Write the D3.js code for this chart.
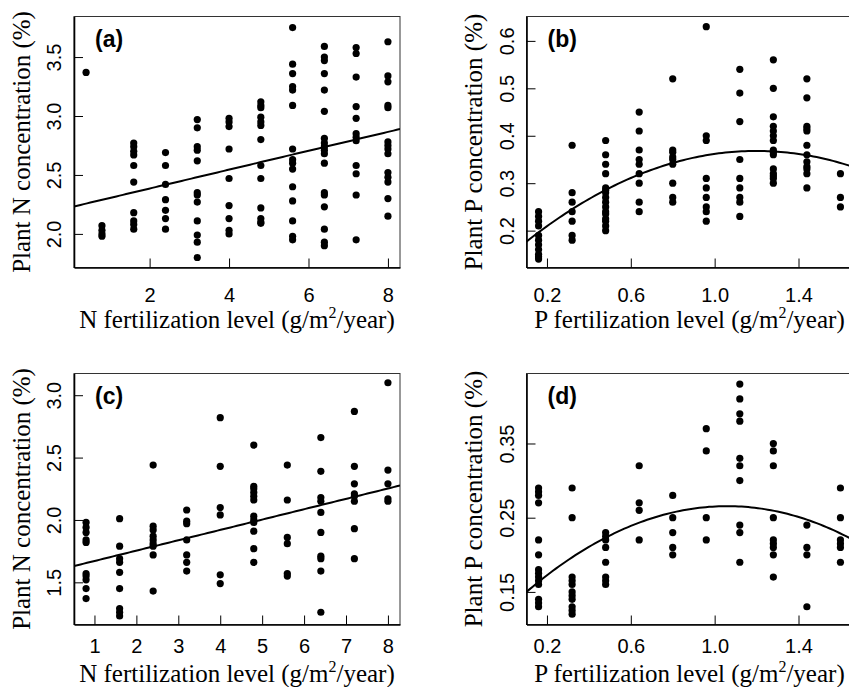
<!DOCTYPE html>
<html>
<head>
<meta charset="utf-8">
<script src="https://cdn.jsdelivr.net/npm/d3@7"></script>
<style>
  body { margin: 0; background: #fff; }
  svg { display: block; }
</style>
</head>
<body>
<svg id="chart" width="849" height="687"></svg>
<script>
/* (a) N addition experiment: plant N concentration */
var nLevelsA = [0.4, 0.8, 1.6, 2.4, 3.2, 4.0, 4.8, 5.6, 6.4, 7.2, 8.0];
var plantNA = [
  [3.37],
  [2.07, 2.03, 2.00, 1.98],
  [2.77, 2.74, 2.70, 2.67, 2.58, 2.44, 2.18, 2.11, 2.08, 2.04],
  [2.69, 2.58, 2.42, 2.29, 2.20, 2.13, 2.04],
  [2.97, 2.90, 2.74, 2.71, 2.62, 2.35, 2.33, 2.27, 2.11, 1.99, 1.93, 1.80],
  [2.98, 2.95, 2.91, 2.72, 2.47, 2.24, 2.13, 2.03, 2.00],
  [3.12, 3.09, 3.07, 2.99, 2.95, 2.92, 2.80, 2.58, 2.47, 2.22, 2.13, 2.10, 2.09],
  [3.75, 3.44, 3.36, 3.25, 3.22, 3.09, 2.72, 2.63, 2.60, 2.55, 2.40, 2.28, 2.11, 1.98, 1.95],
  [3.59, 3.50, 3.47, 3.36, 3.22, 3.04, 2.81, 2.77, 2.74, 2.71, 2.68, 2.60, 2.35, 2.33, 2.23, 2.04, 1.93, 1.90],
  [3.58, 3.53, 3.33, 3.08, 2.98, 2.85, 2.82, 2.79, 2.58, 2.51, 2.33, 1.95],
  [3.63, 3.34, 3.29, 3.09, 3.07, 2.78, 2.75, 2.72, 2.68, 2.52, 2.48, 2.44, 2.30, 2.15]
];
var fitA = [2.225, 0.080];
var xDomainA = [0.096, 8.304], yDomainA = [1.715, 3.844];
var xTicksA = [2, 4, 6, 8], yTicksA = [2.0, 2.5, 3.0, 3.5];

/* (b) P addition experiment: plant P concentration */
var pLevelsB = [0.16, 0.32, 0.48, 0.64, 0.80, 0.96, 1.12, 1.28, 1.44, 1.60];
var plantPB = [
  [0.24, 0.23, 0.22, 0.21, 0.19, 0.18, 0.17, 0.16, 0.15, 0.145, 0.14],
  [0.38, 0.28, 0.26, 0.24, 0.22, 0.19, 0.18],
  [0.39, 0.36, 0.34, 0.32, 0.29, 0.285, 0.28, 0.27, 0.26, 0.25, 0.24, 0.235, 0.225, 0.22, 0.21, 0.20],
  [0.45, 0.41, 0.37, 0.35, 0.34, 0.32, 0.30, 0.26, 0.24],
  [0.52, 0.37, 0.365, 0.355, 0.35, 0.34, 0.30, 0.27, 0.26],
  [0.63, 0.40, 0.39, 0.31, 0.29, 0.27, 0.25, 0.24, 0.22],
  [0.54, 0.49, 0.43, 0.35, 0.31, 0.29, 0.27, 0.26, 0.23],
  [0.56, 0.50, 0.44, 0.42, 0.41, 0.40, 0.39, 0.37, 0.365, 0.36, 0.33, 0.32, 0.315, 0.31, 0.30],
  [0.52, 0.48, 0.42, 0.415, 0.41, 0.38, 0.36, 0.345, 0.335, 0.33, 0.32, 0.29],
  [0.32, 0.27, 0.25]
];
var fitB = [0.1395, 0.3809, -0.1587];
var xDomainB = [0.1024, 1.6576], yDomainB = [0.1223, 0.6514];
var xTicksB = [0.2, 0.6, 1.0, 1.4], yTicksB = [0.2, 0.3, 0.4, 0.5, 0.6];

/* (c) N addition experiment (second site): plant N concentration */
var nLevelsC = [0.8, 1.6, 2.4, 3.2, 4.0, 4.8, 5.6, 6.4, 7.2, 8.0];
var plantNC = [
  [1.98, 1.94, 1.90, 1.84, 1.82, 1.57, 1.55, 1.52, 1.45, 1.37],
  [2.01, 1.79, 1.69, 1.66, 1.58, 1.45, 1.29, 1.26, 1.23],
  [2.44, 1.95, 1.92, 1.87, 1.84, 1.81, 1.79, 1.72, 1.43],
  [2.08, 1.99, 1.97, 1.84, 1.72, 1.66, 1.59],
  [2.82, 2.43, 2.10, 2.04, 1.56, 1.49],
  [2.60, 2.27, 2.25, 2.22, 2.19, 2.16, 2.03, 2.00, 1.98, 1.91, 1.77, 1.66],
  [2.44, 2.16, 1.86, 1.81, 1.57, 1.55],
  [2.66, 2.39, 2.18, 2.15, 2.06, 1.90, 1.71, 1.69, 1.59, 1.26],
  [2.87, 2.43, 2.29, 2.21, 2.19, 2.15, 1.93, 1.69],
  [3.10, 2.40, 2.29, 2.17, 2.15]
];
var fitC = [1.588, 0.083];
var xDomainC = [0.512, 8.288], yDomainC = [1.162, 3.174];
var xTicksC = [1, 2, 3, 4, 5, 6, 7, 8], yTicksC = [1.5, 2.0, 2.5, 3.0];

/* (d) P addition experiment (second site): plant P concentration */
var pLevelsD = [0.16, 0.32, 0.48, 0.64, 0.80, 0.96, 1.12, 1.28, 1.44, 1.60];
var plantPD = [
  [0.29, 0.285, 0.28, 0.27, 0.22, 0.20, 0.18, 0.175, 0.17, 0.165, 0.16, 0.14, 0.135, 0.13],
  [0.29, 0.25, 0.17, 0.165, 0.16, 0.15, 0.145, 0.14, 0.13, 0.125, 0.12],
  [0.23, 0.225, 0.22, 0.21, 0.19, 0.17, 0.165, 0.16],
  [0.32, 0.27, 0.26, 0.22],
  [0.28, 0.25, 0.23, 0.21, 0.20],
  [0.37, 0.34, 0.25, 0.22],
  [0.43, 0.41, 0.39, 0.38, 0.33, 0.32, 0.30, 0.24, 0.23, 0.19],
  [0.35, 0.34, 0.32, 0.25, 0.22, 0.215, 0.21, 0.20, 0.17],
  [0.24, 0.21, 0.20, 0.13],
  [0.29, 0.25, 0.22, 0.215, 0.21, 0.19]
];
var fitD = [0.1240, 0.2671, -0.126];
var xDomainD = [0.1024, 1.6576], yDomainD = [0.1061, 0.4443];
var xTicksD = [0.2, 0.6, 1.0, 1.4], yTicksD = [0.15, 0.25, 0.35];

var nTitle = ["N fertilization level (g/m", "2", "/year)"];
var pTitle = ["P fertilization level (g/m", "2", "/year)"];

var panels = [
  {label: "(a)", levels: nLevelsA, values: plantNA, fit: fitA, xDomain: xDomainA, yDomain: yDomainA,
    xTicks: xTicksA, yTicks: yTicksA, xFmt: d3.format("d"), yFmt: d3.format(".1f"),
    xTitle: nTitle, yTitle: "Plant N concentration (%)"},
  {label: "(b)", levels: pLevelsB, values: plantPB, fit: fitB, xDomain: xDomainB, yDomain: yDomainB,
    xTicks: xTicksB, yTicks: yTicksB, xFmt: d3.format(".1f"), yFmt: d3.format(".1f"),
    xTitle: pTitle, yTitle: "Plant P concentration (%)"},
  {label: "(c)", levels: nLevelsC, values: plantNC, fit: fitC, xDomain: xDomainC, yDomain: yDomainC,
    xTicks: xTicksC, yTicks: yTicksC, xFmt: d3.format("d"), yFmt: d3.format(".1f"),
    xTitle: nTitle, yTitle: "Plant N concentration (%)"},
  {label: "(d)", levels: pLevelsD, values: plantPD, fit: fitD, xDomain: xDomainD, yDomain: yDomainD,
    xTicks: xTicksD, yTicks: yTicksD, xFmt: d3.format(".1f"), yFmt: d3.format(".2f"),
    xTitle: pTitle, yTitle: "Plant P concentration (%)"}
];

var colX = [74, 526.5],
    rowY = [16.5, 373.5],
    tickGap = [34, 28.5],
    titleGap = [60, 57.5],
    plotW = 326,
    plotH = 251,
    sans = "'Liberation Sans', Arial, Helvetica, sans-serif",
    serif = "'Liberation Serif', 'Times New Roman', Times, serif";

var svg = d3.select("#chart");

function poly(coef, v) {
  return coef.reduce((s, c, k) => s + c * Math.pow(v, k), 0);
}

function drawPanel(p, i) {

  var row = Math.floor(i / 2);
  var g = svg.append("g")
    .attr("transform", `translate(${colX[i % 2]},${rowY[row]})`);

  var x = d3.scaleLinear().domain(p.xDomain).range([0, plotW]);
  var y = d3.scaleLinear().domain(p.yDomain).range([plotH, 0]);

  g.append("clipPath").attr("id", "clip" + i)
    .append("rect").attr("width", plotW).attr("height", plotH);

  /* Frame */
  g.append("rect")
    .attr("width", plotW).attr("height", plotH)
    .attr("fill", "none").attr("stroke", "#333").attr("stroke-width", 1);

  /* Points, one column per fertilization level */
  var pts = [];
  p.levels.forEach((lv, k) => p.values[k].forEach((v) => pts.push([lv, v])));

  g.append("g").selectAll("circle")
    .data(pts)
    .enter().append("circle")
    .attr("cx", (d) => x(d[0]))
    .attr("cy", (d) => y(d[1]))
    .attr("r", 3.6)
    .attr("fill", "#000");

  /* Fitted curve */
  var xs = d3.range(0, 101).map((k) => p.xDomain[0] + (p.xDomain[1] - p.xDomain[0]) * k / 100);
  g.append("path")
    .datum(xs)
    .attr("clip-path", `url(#clip${i})`)
    .attr("fill", "none")
    .attr("stroke", "#000")
    .attr("stroke-width", 2)
    .attr("d", d3.line().x((d) => x(d)).y((d) => y(poly(p.fit, d))));

  /* Bottom axis, ticks pointing inward */
  var xa = g.append("g")
    .attr("transform", `translate(0,${plotH})`)
    .call(d3.axisBottom(x).tickValues(p.xTicks).tickFormat(p.xFmt)
      .tickSizeInner(-9).tickSizeOuter(0));
  xa.select(".domain").attr("stroke", "#000").attr("stroke-width", 1.6);
  xa.selectAll("line").attr("stroke", "#000");
  xa.selectAll("text")
    .attr("y", tickGap[row]).attr("dy", null)
    .attr("font-family", sans).attr("font-size", 20).attr("fill", "#000");

  /* Left axis */
  var ya = g.append("g")
    .call(d3.axisLeft(y).tickValues(p.yTicks).tickFormat(p.yFmt)
      .tickSizeInner(-9).tickSizeOuter(0));
  ya.select(".domain").attr("stroke", "#000").attr("stroke-width", 1.6);
  ya.selectAll("line").attr("stroke", "#000");
  ya.selectAll("text")
    .attr("x", null).attr("dy", null)
    .attr("transform", "translate(-13,0) rotate(-90)")
    .attr("text-anchor", "middle")
    .attr("font-family", sans).attr("font-size", 20).attr("fill", "#000");
  xa.attr("font-family", null).attr("font-size", null);
  ya.attr("font-family", null).attr("font-size", null);

  /* Panel label */
  g.append("text")
    .attr("x", 21).attr("y", 30)
    .attr("font-family", sans).attr("font-weight", "bold").attr("font-size", 23)
    .text(p.label);

  /* Axis titles */
  var xt = g.append("text")
    .attr("x", plotW / 2).attr("y", plotH + titleGap[row])
    .attr("text-anchor", "middle")
    .attr("font-family", serif).attr("font-size", 25);
  xt.append("tspan").text(p.xTitle[0]);
  xt.append("tspan").attr("font-size", 16).attr("dy", -10).text(p.xTitle[1]);
  xt.append("tspan").attr("dy", 10).text(p.xTitle[2]);

  g.append("text")
    .attr("transform", `translate(-44.5,${plotH / 2}) rotate(-90)`)
    .attr("text-anchor", "middle")
    .attr("font-family", serif).attr("font-size", 25)
    .text(p.yTitle);
}

panels.forEach(drawPanel);
</script>
</body>
</html>
